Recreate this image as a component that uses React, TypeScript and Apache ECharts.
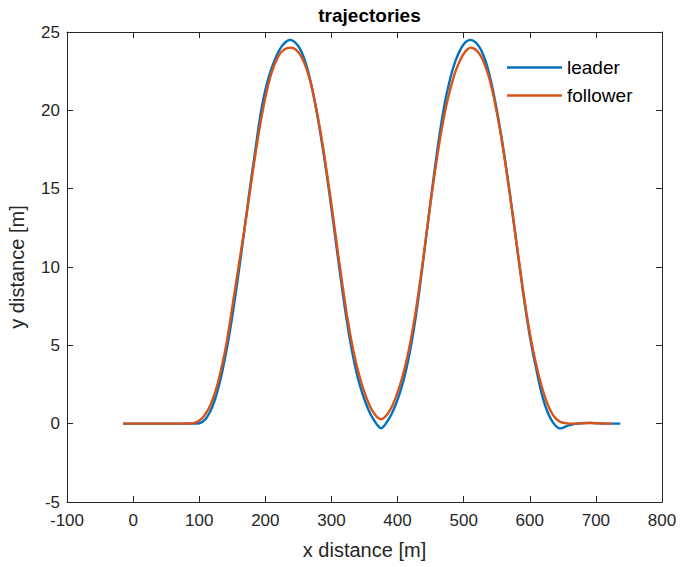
import React, { useEffect, useRef } from "react";
import * as echarts from "echarts";

const titleText = "trajectories";
const xAxisName = "x distance [m]";
const yAxisName = "y distance [m]";
const seriesNames = ["leader", "follower"];
const seriesColors = ["#0072BD", "#D95319"];

const xTicks = { min: -100, max: 800, interval: 100 };
const yTicks = { min: -5, max: 25, interval: 5 };

const leader: [number, number][] = [
  [-15, 0], [20, 0], [60, 0], [90, 0], [95, 0.005], [100, 0.02], [105, 0.12], [110, 0.32],
  [115, 0.65], [120, 1.1], [125, 1.7], [130, 2.45], [135, 3.35], [140, 4.4], [145, 5.55],
  [150, 6.85], [155, 8.25], [160, 9.75], [165, 11.3], [170, 12.9], [175, 14.5], [180, 16.05],
  [185, 17.5], [190, 19.0], [195, 20.3], [200, 21.3], [205, 22.1], [210, 22.75], [215, 23.3],
  [220, 23.75], [225, 24.1], [230, 24.33], [234, 24.45], [237, 24.5],
  [242, 24.43], [247, 24.25], [252, 23.95], [257, 23.5], [262, 22.9], [267, 22.1],
  [272, 21.15], [277, 20.05], [282, 18.85], [287, 17.55], [292, 16.15], [297, 14.65],
  [302, 13.1], [307, 11.5], [312, 9.9], [317, 8.35], [322, 6.9], [327, 5.6], [332, 4.45],
  [337, 3.45], [342, 2.6], [347, 1.9], [352, 1.3], [357, 0.8], [362, 0.38], [367, 0.05],
  [371, -0.17], [375, -0.3], [379, -0.17], [383, 0.05], [388, 0.38], [393, 0.8], [398, 1.3],
  [403, 1.9], [408, 2.6], [413, 3.45], [418, 4.45], [423, 5.6], [428, 6.95], [433, 8.5],
  [438, 10.15], [443, 11.85], [448, 13.55], [453, 15.2], [458, 16.8], [463, 18.3],
  [468, 19.65], [473, 20.8], [478, 21.75], [483, 22.55], [488, 23.2], [493, 23.7],
  [498, 24.1], [503, 24.35], [506.5, 24.46], [510, 24.5],
  [515, 24.43], [520, 24.25], [525, 23.95], [530, 23.5], [535, 22.9], [540, 22.1],
  [545, 21.15], [550, 20.05], [555, 18.85], [560, 17.55], [565, 16.15], [570, 14.65],
  [575, 13.1], [580, 11.5], [585, 9.9], [590, 8.35], [595, 6.9], [600, 5.6], [605, 4.45],
  [610, 3.45], [615, 2.45], [620, 1.6], [625, 0.95], [630, 0.45], [635, 0.08], [640, -0.17],
  [645, -0.3], [650, -0.27], [655, -0.18], [660, -0.1], [665, -0.04], [670, 0.0],
  [677, 0.03], [685, 0.05], [692, 0.05], [700, 0.03], [710, 0.01], [720, 0], [737, 0],
];

const follower: [number, number][] = [
  [-15, 0], [20, 0], [60, 0], [85, 0.01], [92, 0.05], [97, 0.12], [102, 0.26], [107, 0.48],
  [112, 0.78], [117, 1.2], [122, 1.75], [127, 2.42], [132, 3.25], [137, 4.2], [142, 5.3],
  [147, 6.6], [152, 8.0], [157, 9.35], [162, 10.7], [167, 12.05], [172, 13.45], [177, 14.9],
  [182, 16.35], [187, 17.75], [192, 19.05], [197, 20.2], [202, 21.2], [207, 22.05],
  [212, 22.72], [217, 23.22], [222, 23.6], [227, 23.83], [232, 23.95], [237.5, 24.0],
  [243, 23.95], [248, 23.8], [253, 23.53], [258, 23.12], [263, 22.55], [268, 21.85],
  [273, 20.95], [278, 19.9], [283, 18.75], [288, 17.45], [293, 16.05], [298, 14.6],
  [303, 13.05], [308, 11.5], [313, 9.95], [318, 8.45], [323, 7.05], [328, 5.8], [333, 4.7],
  [338, 3.75], [343, 2.95], [348, 2.25], [353, 1.65], [358, 1.15], [363, 0.75], [368, 0.47],
  [372, 0.33], [375, 0.28], [378, 0.33], [382, 0.47], [387, 0.75], [392, 1.15], [397, 1.65],
  [402, 2.25], [407, 2.95], [412, 3.75], [417, 4.7], [422, 5.8], [427, 7.05], [432, 8.45],
  [437, 9.95], [442, 11.55], [447, 13.15], [452, 14.75], [457, 16.2], [462, 17.6],
  [467, 18.85], [472, 19.95], [477, 20.9], [482, 21.7], [487, 22.4], [492, 22.95],
  [497, 23.4], [502, 23.72], [506, 23.9], [510, 24.0],
  [515, 23.95], [520, 23.8], [525, 23.53], [530, 23.12], [535, 22.55], [540, 21.85],
  [545, 20.95], [550, 19.9], [555, 18.75], [560, 17.45], [565, 16.05], [570, 14.6],
  [575, 13.05], [580, 11.5], [585, 9.95], [590, 8.45], [595, 7.05], [600, 5.8], [605, 4.7],
  [610, 3.72], [615, 2.85], [620, 2.1], [625, 1.45], [630, 0.95], [635, 0.56], [640, 0.3],
  [645, 0.14], [650, 0.06], [656, 0.02], [663, 0.0], [672, 0.01], [682, 0.03], [692, 0.04],
  [702, 0.03], [712, 0.01], [724, 0],
];

const FONT = "'Liberation Sans', Arial, Helvetica, sans-serif";
const AXIS_COLOR = "#262626";

export default function App() {
  const ref = useRef<HTMLDivElement>(null);

  useEffect(() => {
    if (!ref.current) return;
    const chart = echarts.init(ref.current, undefined, { renderer: "svg" });
    const axisCommon = {
      axisLine: { show: true, onZero: false, lineStyle: { color: AXIS_COLOR, width: 1 } },
      axisTick: { show: true, inside: true, length: 6, lineStyle: { color: AXIS_COLOR, width: 1 } },
      splitLine: { show: false },
    };
    const labelStyle = { color: AXIS_COLOR, fontSize: 17, fontFamily: FONT };
    const nameStyle = { fontSize: 20, color: AXIS_COLOR, fontFamily: FONT };
    chart.setOption({
      animation: false,
      backgroundColor: "#ffffff",
      title: {
        text: titleText,
        left: 364.5,
        top: 1,
        textAlign: "center",
        textStyle: { fontSize: 19, fontWeight: "bold", color: "#000", fontFamily: FONT },
      },
      grid: {
        left: 67,
        right: 33,
        top: 32,
        bottom: 65,
        containLabel: false,
        outerBoundsMode: "none",
      },
      legend: {
        orient: "vertical",
        left: 507,
        top: 58,
        padding: 0,
        icon: "rect",
        itemWidth: 55,
        itemHeight: 2.6,
        itemGap: 9,
        data: seriesNames,
        textStyle: { fontSize: 19, color: "#000", fontFamily: FONT },
      },
      xAxis: [
        {
          type: "value",
          min: xTicks.min,
          max: xTicks.max,
          interval: xTicks.interval,
          position: "bottom",
          name: xAxisName,
          nameLocation: "middle",
          nameGap: 38,
          nameTextStyle: nameStyle,
          axisLabel: { ...labelStyle, margin: 10 },
          ...axisCommon,
        },
        {
          type: "value",
          min: xTicks.min,
          max: xTicks.max,
          interval: xTicks.interval,
          position: "top",
          axisLabel: { show: false },
          ...axisCommon,
        },
      ],
      yAxis: [
        {
          type: "value",
          min: yTicks.min,
          max: yTicks.max,
          interval: yTicks.interval,
          position: "left",
          name: yAxisName,
          nameLocation: "middle",
          nameGap: 40,
          nameRotate: 90,
          nameTextStyle: nameStyle,
          axisLabel: { ...labelStyle, margin: 7 },
          ...axisCommon,
        },
        {
          type: "value",
          min: yTicks.min,
          max: yTicks.max,
          interval: yTicks.interval,
          position: "right",
          axisLabel: { show: false },
          ...axisCommon,
        },
      ],
      series: [
        {
          name: seriesNames[0],
          type: "line",
          data: leader,
          showSymbol: false,
          symbol: "none",
          smooth: 0.2,
          lineStyle: { color: seriesColors[0], width: 2.4 },
          itemStyle: { color: seriesColors[0] },
          z: 2,
        },
        {
          name: seriesNames[1],
          type: "line",
          data: follower,
          showSymbol: false,
          symbol: "none",
          smooth: 0.2,
          lineStyle: { color: seriesColors[1], width: 2.4 },
          itemStyle: { color: seriesColors[1] },
          z: 3,
        },
      ],
    });
    return () => chart.dispose();
  }, []);

  return (
    <div
      ref={ref}
      style={{ position: "fixed", left: 0, top: 0, width: 695, height: 567, background: "#fff" }}
    />
  );
}
